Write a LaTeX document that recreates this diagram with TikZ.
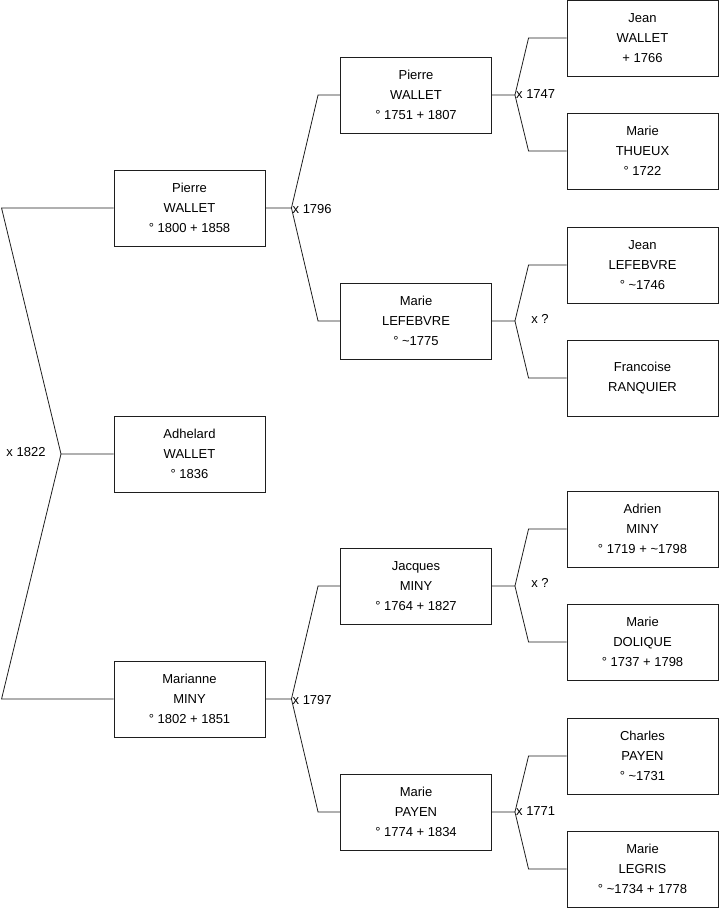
\documentclass[tikz,border=0pt]{standalone}
\usepackage{fontspec}
\setmainfont{Liberation Sans}
\usepackage{xcolor}
\usepackage{tikz}
\usetikzlibrary{positioning,calc}
\definecolor{edge}{RGB}{30,30,30}
\tikzset{
  person/.style={draw=edge,line width=0.9pt,rectangle,minimum width=151pt,
                 minimum height=76pt,align=center,inner sep=0pt,
                 font=\fontsize{13}{20}\selectfont},
  wed/.style={font=\fontsize{13}{15}\selectfont,inner sep=1pt},
  link/.style={draw=edge,line width=0.8pt}
}

\begin{document}
\begin{tikzpicture}[x=1pt,y=-1pt]
\useasboundingbox (0,0) rectangle (719,908);
% generation 1
\node[person] (pierreA)   at (189.5,208) {Pierre\\WALLET\\° 1800 + 1858};
\node[person] (adhelard)  at (189.5,454) {Adhelard\\WALLET\\° 1836};
\node[person] (marianne)  at (189.5,699) {Marianne\\MINY\\° 1802 + 1851};
% generation 2
\node[person] (pierreB)   at (416,95)  {Pierre\\WALLET\\° 1751 + 1807};
\node[person] (marieLef)  at (416,321) {Marie\\LEFEBVRE\\° \textasciitilde1775};
\node[person] (jacques)   at (416,586) {Jacques\\MINY\\° 1764 + 1827};
\node[person] (mariePay)  at (416,812) {Marie\\PAYEN\\° 1774 + 1834};
% generation 3
\node[person] (jeanW)     at (642.5,38)  {Jean\\WALLET\\+ 1766};
\node[person] (marieT)    at (642.5,151) {Marie\\THUEUX\\° 1722};
\node[person] (jeanL)     at (642.5,265) {Jean\\LEFEBVRE\\° \textasciitilde1746};
\node[person] (francoise) at (642.5,378) {Francoise\\RANQUIER};
\node[person] (adrien)    at (642.5,529) {Adrien\\MINY\\° 1719 + \textasciitilde1798};
\node[person] (marieD)    at (642.5,642) {Marie\\DOLIQUE\\° 1737 + 1798};
\node[person] (charles)   at (642.5,756) {Charles\\PAYEN\\° \textasciitilde1731};
\node[person] (marieLeg)  at (642.5,869) {Marie\\LEGRIS\\° \textasciitilde1734 + 1778};

% marriage of the parents
\coordinate (k1822) at (61,454);
\draw[link] (pierreA.west) -- ++(-112,0) -- (k1822) -- (adhelard.west);
\draw[link] (marianne.west) -- ++(-112,0) -- (k1822);
\node[wed] (l1822) at (26,452) {x 1822};

% grandparents
\draw[link] (pierreA.east) -- ++(26,0) coordinate (k1796)
  -- ([xshift=-22pt]pierreB.west) -- (pierreB.west);
\draw[link] (k1796) -- ([xshift=-22pt]marieLef.west) -- (marieLef.west);
\node[wed,right] (l1796) at ([yshift=-1pt]k1796) {x 1796};

\draw[link] (marianne.east) -- ++(26,0) coordinate (k1797)
  -- ([xshift=-22pt]jacques.west) -- (jacques.west);
\draw[link] (k1797) -- ([xshift=-22pt]mariePay.west) -- (mariePay.west);
\node[wed,right] (l1797) at ([yshift=-1pt]k1797) {x 1797};

% great-grandparents
\draw[link] (pierreB.east) -- ++(23,0) coordinate (k1747)
  -- ([xshift=-38pt]jeanW.west) -- (jeanW.west);
\draw[link] (k1747) -- ([xshift=-38pt]marieT.west) -- (marieT.west);
\node[wed,right] (l1747) at ([yshift=1pt]k1747) {x 1747};

\draw[link] (marieLef.east) -- ++(23,0) coordinate (kLef)
  -- ([xshift=-38pt]jeanL.west) -- (jeanL.west);
\draw[link] (kLef) -- ([xshift=-38pt]francoise.west) -- (francoise.west);
\node[wed] (lLef) at (540,319) {x ?};

\draw[link] (jacques.east) -- ++(23,0) coordinate (kMiny)
  -- ([xshift=-38pt]adrien.west) -- (adrien.west);
\draw[link] (kMiny) -- ([xshift=-38pt]marieD.west) -- (marieD.west);
\node[wed] (lMiny) at (540,583) {x ?};

\draw[link] (mariePay.east) -- ++(23,0) coordinate (k1771)
  -- ([xshift=-38pt]charles.west) -- (charles.west);
\draw[link] (k1771) -- ([xshift=-38pt]marieLeg.west) -- (marieLeg.west);
\node[wed,right] (l1771) at ([yshift=1pt]k1771) {x 1771};
\end{tikzpicture}
\end{document}
